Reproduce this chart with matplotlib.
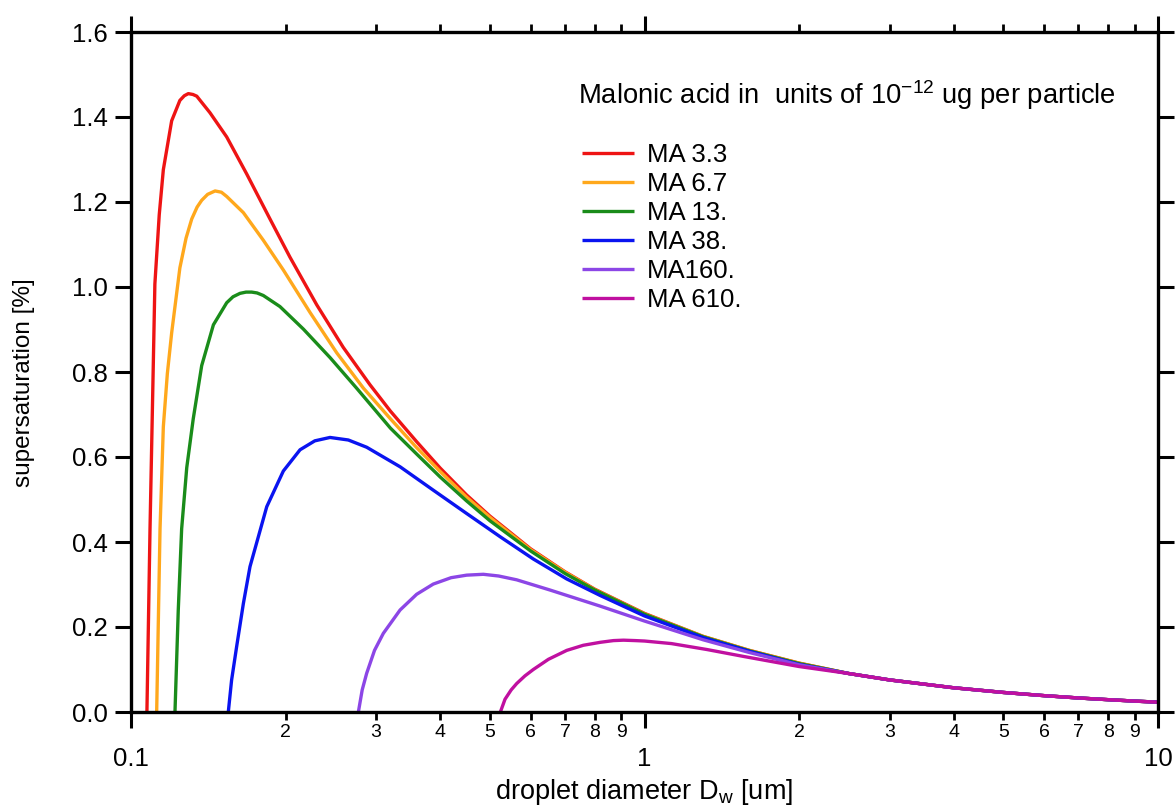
import numpy as np
import matplotlib
matplotlib.use("Agg")
import matplotlib.pyplot as plt
import matplotlib.ticker as ticker

plt.rcParams['font.family'] = ['Liberation Sans', 'DejaVu Sans']
plt.rcParams['mathtext.fontset'] = 'custom'
plt.rcParams['mathtext.rm'] = 'Liberation Sans'
plt.rcParams['mathtext.it'] = 'Liberation Sans'

# droplet diameter [um] and supersaturation [%]
ma33_d = [0.1074, 0.1089, 0.1105, 0.1113, 0.1135, 0.1156, 0.120, 0.1245, 0.127, 0.1293,
          0.132, 0.1343, 0.1425, 0.1536, 0.168, 0.1865, 0.204, 0.230, 0.259, 0.292,
          0.32, 0.36, 0.40, 0.45, 0.50, 0.60, 0.70, 0.80, 1.0, 1.3, 1.6, 2.0]
ma33_s = [0.0, 0.431, 0.815, 1.007, 1.17, 1.276, 1.391, 1.439, 1.450, 1.455,
          1.453, 1.449, 1.410, 1.353, 1.266, 1.160, 1.070, 0.958, 0.858, 0.770,
          0.708, 0.636, 0.574, 0.511, 0.461, 0.384, 0.330, 0.289, 0.232, 0.178, 0.145, 0.115]

ma67_d = [0.1122, 0.1139, 0.1156, 0.1177, 0.120, 0.1245, 0.128, 0.1313, 0.1345, 0.1373,
          0.141, 0.1458, 0.150, 0.1536, 0.1655, 0.181, 0.198, 0.2232, 0.2516, 0.2835,
          0.32, 0.36, 0.40, 0.45, 0.50, 0.60, 0.70, 0.80, 1.0, 1.3, 1.6, 2.0]
ma67_s = [0.0, 0.431, 0.671, 0.796, 0.892, 1.045, 1.115, 1.160, 1.188, 1.204,
          1.218, 1.226, 1.223, 1.213, 1.175, 1.110, 1.040, 0.940, 0.845, 0.762,
          0.690, 0.622, 0.566, 0.506, 0.458, 0.382, 0.329, 0.288, 0.231, 0.178, 0.145, 0.115]

ma13_d = [0.1218, 0.1236, 0.1255, 0.1284, 0.1322, 0.1373, 0.1447, 0.1536, 0.158, 0.163,
          0.1675, 0.1718, 0.176, 0.181, 0.195, 0.2166, 0.2441, 0.275, 0.32, 0.36,
          0.40, 0.45, 0.50, 0.60, 0.70, 0.80, 1.0, 1.3, 1.6, 2.0]
ma13_s = [0.0, 0.239, 0.431, 0.575, 0.690, 0.815, 0.911, 0.963, 0.977, 0.985,
          0.988, 0.988, 0.986, 0.980, 0.954, 0.901, 0.834, 0.762, 0.668, 0.607,
          0.553, 0.497, 0.450, 0.379, 0.326, 0.287, 0.230, 0.177, 0.144, 0.114]

ma38_d = [0.1547, 0.157, 0.1606, 0.1655, 0.1705, 0.1838, 0.198, 0.2134, 0.228, 0.2441,
          0.265, 0.2877, 0.3342, 0.3878, 0.4505, 0.524, 0.6074, 0.7057, 0.8203, 1.0,
          1.3, 1.6, 2.0]
ma38_s = [0.0, 0.075, 0.154, 0.255, 0.342, 0.483, 0.567, 0.617, 0.638, 0.646,
          0.640, 0.623, 0.577, 0.522, 0.467, 0.412, 0.360, 0.313, 0.274, 0.226,
          0.175, 0.143, 0.112]

ma160_d = [0.2772, 0.282, 0.2877, 0.298, 0.31, 0.3342, 0.36, 0.3878, 0.42, 0.4505,
           0.4855, 0.52, 0.5638, 0.6546, 0.8203, 1.0, 1.3, 1.6, 2.0]
ma160_s = [0.0, 0.052, 0.091, 0.145, 0.185, 0.240, 0.277, 0.301, 0.316, 0.322,
           0.324, 0.320, 0.311, 0.287, 0.249, 0.214, 0.170, 0.140, 0.111]

ma610_d = [0.524, 0.535, 0.55, 0.5638, 0.585, 0.6074, 0.65, 0.7057, 0.76, 0.8203,
           0.87, 0.91, 0.96, 1.0, 1.128, 1.323, 1.555, 2.0]
ma610_s = [0.0, 0.030, 0.052, 0.067, 0.085, 0.100, 0.124, 0.145, 0.157, 0.164,
           0.168, 0.169, 0.168, 0.167, 0.161, 0.147, 0.131, 0.107]

# common tail, all curves lie on top of each other here
tail_d = [2.5, 3.0, 4.0, 5.0, 6.0, 7.0, 8.0, 9.0, 10.0]
tail_s = [0.0905, 0.0755, 0.057, 0.046, 0.0385, 0.033, 0.029, 0.0257, 0.0231]

labels = ['MA 3.3', 'MA 6.7', 'MA 13.', 'MA 38.', 'MA160.', 'MA 610.']
colors = ['#ee1414', '#ffa81c', '#1a8c1a', '#0a14f0', '#8c46e6', '#c010a0']
series = [(ma33_d, ma33_s), (ma67_d, ma67_s), (ma13_d, ma13_s),
          (ma38_d, ma38_s), (ma160_d, ma160_s), (ma610_d, ma610_s)]

fig = plt.figure(figsize=(11.76, 8.07), dpi=100)
ax = fig.add_axes([131/1176, 1 - 712/807, 1027/1176, 680/807])

for (d, s), lab, c in zip(series, labels, colors):
    ax.plot(d + tail_d, s + tail_s, color=c, lw=2.4, label=lab, solid_capstyle='butt')

ax.set_xscale('log')
ax.set_xlim(0.1, 10)
ax.set_ylim(0, 1.6)

ax.yaxis.set_major_locator(ticker.MultipleLocator(0.2))
ax.yaxis.set_major_formatter(ticker.FormatStrFormatter('%.1f'))
ax.yaxis.set_minor_locator(ticker.NullLocator())

ax.xaxis.set_major_locator(ticker.FixedLocator([0.1, 1, 10]))
ax.xaxis.set_major_formatter(ticker.FixedFormatter(['0.1', '1', '10']))
ax.xaxis.set_minor_locator(ticker.LogLocator(base=10, subs=np.arange(2, 10)))


def minor_lab(v, pos):
    return '%d' % round(v / 10 ** np.floor(np.log10(v) + 1e-9))


ax.xaxis.set_minor_formatter(ticker.FuncFormatter(minor_lab))

for sp in ax.spines.values():
    sp.set_linewidth(2.4)

ax.tick_params(axis='x', which='major', direction='out', length=11.5, width=2.2,
               pad=14, labelsize=18.5, top=True, bottom=True)
ax.tick_params(axis='x', which='minor', direction='out', length=5.8, width=2.0,
               pad=2.5, labelsize=14, top=True, bottom=True)
ax.tick_params(axis='y', which='major', direction='out', length=11.5, width=2.2,
               pad=5, labelsize=18.5, left=True, right=True)

ax.set_xlabel('droplet diameter D$_{\\mathrm{w}}$ [um]', fontsize=19.5, labelpad=4)
ax.set_ylabel('supersaturation [%]', fontsize=17.5)
ax.yaxis.set_label_coords(-0.093, 0.484)

ax.text(0.435, 0.907, 'Malonic acid in  units of 10$^{\\mathrm{-12}}$ ug per particle',
        transform=ax.transAxes, fontsize=19.7, va='center', ha='left')

ax.legend(loc='upper left', bbox_to_anchor=(0.439, 0.837), frameon=False,
          fontsize=18.5, handlelength=2.02, handletextpad=0.5, labelspacing=0.195,
          borderaxespad=0, borderpad=0)

fig.savefig('out.png', dpi=100)
